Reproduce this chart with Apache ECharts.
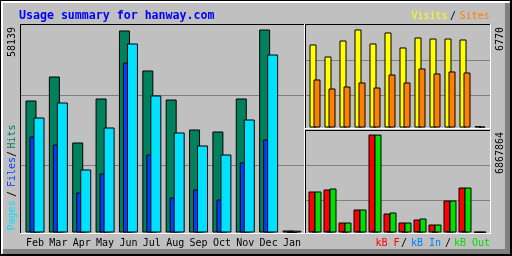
<!DOCTYPE html>
<html><head><meta charset="utf-8">
<script src="https://cdn.jsdelivr.net/npm/echarts@6/dist/echarts.min.js"></script>
<style>html,body{margin:0;padding:0;background:#c0c0c0}#c{width:512px;height:256px}</style>
</head><body><div id="c"></div>
<script>
// ---- data ----
const months = ['Feb','Mar','Apr','May','Jun','Jul','Aug','Sep','Oct','Nov','Dec','Jan'];
const hits   = [37805,44678,25776,38378,57853,46397,38091,29499,28926,38378,58139,573];
const files  = [27494,25203,11456,16898,48688,22339,10024,12315,9451,20048,26635,210];
const pages  = [32936,37232,18043,30072,54130,39237,28640,24917,22339,32363,50979,520];
const visits = [5734,4905,6010,6770,5803,6563,5527,6217,6148,6148,6079,90];
const sites  = [3316,2694,2832,3109,2763,3661,3109,4076,3730,3869,3799,60];
const kbF    = [2873280,3013440,700800,1611840,6867864,1331520,700800,911040,560640,2242560,3153600,50000];
const kbIn   = [110000,120000,90000,100000,130000,100000,90000,100000,80000,110000,120000,20000];
const kbOut  = [2873280,3083520,700800,1611840,6860000,1401600,700800,981120,560640,2242560,3153600,50000];
const titleText = 'Usage summary for hanway.com';
const legendMain = ['Pages','/','Files','/','Hits'];
const legendVS = ['Visits','/','Sites'];
const legendKB = ['kB F','/','kB In','/','kB Out'];

const maxHits = Math.max(...hits);
const maxVisits = Math.max(...visits);
const maxKB = Math.max(...kbF, ...kbOut);

const MONO = 'DejaVu Sans Mono';
const shadow = {textShadowColor:'#808080', textShadowOffsetX:1, textShadowOffsetY:1, textShadowBlur:0};

function hline(x1,x2,y,c){return {type:'line',silent:true,z:100,shape:{x1:x1,y1:y+0.5,x2:x2+1,y2:y+0.5},style:{stroke:c,lineWidth:1}};}
function vline(x,y1,y2,c){return {type:'line',silent:true,z:100,shape:{x1:x+0.5,y1:y1,x2:x+0.5,y2:y2+1},style:{stroke:c,lineWidth:1}};}
function rect(x,y,w,h,c){return {type:'rect',silent:true,z:99,shape:{x:x,y:y,width:w,height:h},style:{fill:c}};}
function txt(s,x,y,color,opts){
  opts=opts||{};
  const st=Object.assign({text:s,fill:color,fontFamily:MONO,fontSize:opts.size||10,fontWeight:opts.weight||'normal',
    align:'left',verticalAlign:'middle',textAlign:'left',textVerticalAlign:'middle'}, opts.shadow?shadow:{});
  return {type:'text',silent:true,z:101,x:x,y:y,rotation:opts.rot?Math.PI/2:0,style:st};
}

const elements = [
  // outer frame
  hline(0,511,0,'#000'), vline(0,0,255,'#000'),
  hline(1,509,1,'#fff'), hline(1,508,2,'#fff'), vline(1,1,253,'#fff'), vline(2,1,252,'#fff'),
  rect(3,249,507,5,'#808080'), rect(505,3,5,251,'#808080'),
  rect(0,254,512,2,'#000'), rect(510,0,2,256,'#000'),
  // main panel
  hline(20,304,24,'#000'), vline(20,24,233,'#000'), hline(20,304,233,'#fff'), vline(304,24,233,'#fff'),
  // top-right panel
  hline(305,490,24,'#000'), vline(305,24,128,'#000'), hline(305,490,128,'#fff'), vline(490,24,128,'#fff'),
  // bottom-right panel
  hline(305,490,130,'#000'), vline(305,130,233,'#000'), hline(305,490,233,'#fff'), vline(490,130,233,'#fff'),
  // title
  txt(titleText,19,15.5,'#0000ff',{size:11.6,weight:'bold'}),
  // max labels
  txt(String(maxHits),12.5,57,'#000',{rot:true}),
  txt(String(maxVisits),500.5,51,'#000',{rot:true}),
  txt(String(maxKB),500.5,174,'#000',{rot:true}),
  // left legend (rotated)
  txt(legendMain[0],12.5,230.5,'#00e0ff',{rot:true,shadow:true}),
  txt(legendMain[1],12.5,197,'#000',{rot:true,shadow:true}),
  txt(legendMain[2],12.5,187,'#0040ff',{rot:true,shadow:true}),
  txt(legendMain[3],12.5,157,'#000',{rot:true,shadow:true}),
  txt(legendMain[4],12.5,148.5,'#00805c',{rot:true,shadow:true}),
  // visits / sites
  txt(legendVS[0],411.5,16.5,'#ffff00',{shadow:true}),
  txt(legendVS[1],450,16.5,'#000',{shadow:true}),
  txt(legendVS[2],459.5,16.5,'#ff8000',{shadow:true}),
  // kB legend
  txt(legendKB[0],375.5,243,'#ff0000',{shadow:true}),
  txt(legendKB[1],401,243,'#000',{shadow:true}),
  txt(legendKB[2],411,243,'#0080ff',{shadow:true}),
  txt(legendKB[3],445,243,'#000',{shadow:true}),
  txt(legendKB[4],454,243,'#00e000',{shadow:true})
];

const hiddenCat = {type:'category',data:months,show:false};
const gridY = {type:'value',min:0,max:1,interval:1,axisLine:{show:false},axisTick:{show:false},axisLabel:{show:false},
  splitLine:{show:true,lineStyle:{color:'#808080',width:1}}};
const bstyle = c => ({color:c,borderColor:'#000',borderWidth:1});

const option = {
  animation:false,
  backgroundColor:'#c0c0c0',
  grid:[
    {left:23.32,width:280.36,top:29.5,height:203},
    {left:307.5,width:180,top:29.5,height:98},
    {left:307.5,width:180,top:134.5,height:98},
    {left:21,width:283,top:95,height:70},
    {left:306,width:184,top:60,height:35},
    {left:306,width:184,top:165,height:35}
  ],
  xAxis:[
    {type:'category',gridIndex:0,data:months,axisLine:{show:false},axisTick:{show:false},
     axisLabel:{interval:0,color:'#000',fontFamily:MONO,fontSize:10,lineHeight:10,margin:6}},
    Object.assign({gridIndex:1},hiddenCat),
    Object.assign({gridIndex:2},hiddenCat),
    {type:'value',gridIndex:3,show:false},
    {type:'value',gridIndex:4,show:false},
    {type:'value',gridIndex:5,show:false}
  ],
  yAxis:[
    {type:'value',gridIndex:0,min:0,max:maxHits,show:false,splitLine:{show:false}},
    {type:'value',gridIndex:1,min:0,max:maxVisits,show:false,splitLine:{show:false}},
    {type:'value',gridIndex:2,min:0,max:maxKB,show:false,splitLine:{show:false}},
    Object.assign({gridIndex:3},gridY),
    Object.assign({gridIndex:4},gridY),
    Object.assign({gridIndex:5},gridY)
  ],
  graphic:{elements:elements},
  series:[
    {name:'Hits',type:'bar',xAxisIndex:0,yAxisIndex:0,data:hits,barWidth:11,barGap:'-63.64%',itemStyle:bstyle('#00805c')},
    {name:'Files',type:'bar',xAxisIndex:0,yAxisIndex:0,data:files,barWidth:11,barGap:'-63.64%',itemStyle:bstyle('#0040ff')},
    {name:'Pages',type:'bar',xAxisIndex:0,yAxisIndex:0,data:pages,barWidth:11,barGap:'-63.64%',itemStyle:bstyle('#00e0ff')},
    {name:'Visits',type:'bar',xAxisIndex:1,yAxisIndex:1,data:visits,barWidth:7,barGap:'-42.857%',itemStyle:bstyle('#ffff00')},
    {name:'Sites',type:'bar',xAxisIndex:1,yAxisIndex:1,data:sites,barWidth:7,barGap:'-42.857%',itemStyle:bstyle('#ff8000')},
    {name:'kB F',type:'bar',xAxisIndex:2,yAxisIndex:2,data:kbF,barWidth:7,barGap:'-57.143%',itemStyle:bstyle('#ff0000')},
    {name:'kB In',type:'bar',xAxisIndex:2,yAxisIndex:2,data:kbIn,barWidth:7,barGap:'-57.143%',itemStyle:bstyle('#0080ff')},
    {name:'kB Out',type:'bar',xAxisIndex:2,yAxisIndex:2,data:kbOut,barWidth:7,barGap:'-57.143%',itemStyle:bstyle('#00e000')}
  ]
};
const chart = echarts.init(document.getElementById('c'),null,{renderer:'canvas'});
chart.setOption(option);
</script></body></html>
